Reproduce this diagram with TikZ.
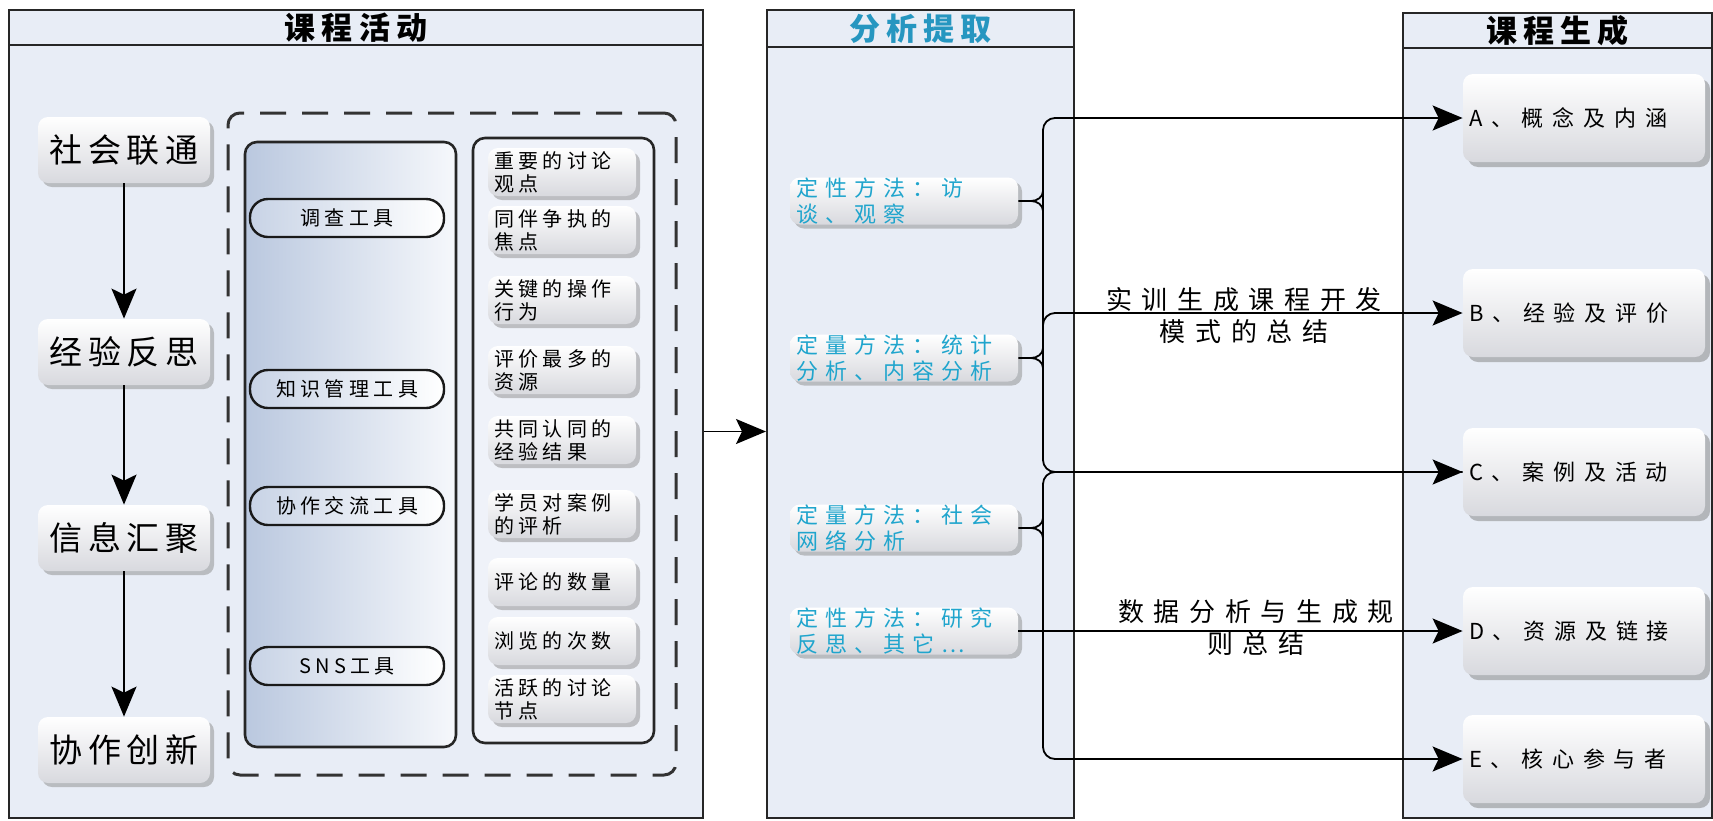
\documentclass[tikz,border=0pt]{standalone}
\usepackage{fontspec}
\setmainfont{Noto Sans CJK SC}
\usetikzlibrary{positioning,arrows.meta,shadows}

\definecolor{panelbg}{RGB}{232,237,246}
\definecolor{toolbg}{RGB}{186,200,223}
\definecolor{itembot}{RGB}{216,217,222}
\definecolor{methodtxt}{RGB}{32,165,205}
\definecolor{titlecyan}{RGB}{38,150,192}

\tikzset{
  conn/.style={draw=black,line width=0.9pt},
  arr/.style={conn,-{Stealth[length=15pt,width=12.5pt,inset=3pt]}},
  panel/.style={draw=black!85,line width=1pt,fill=panelbg,inner sep=0pt},
  head/.style={panel,line width=1.1pt,font=\fontsize{15.5}{18}\selectfont\bfseries\addfontfeatures{LetterSpace=20}},
  boxshade/.style={top color=white,bottom color=itembot,
    drop shadow={shadow xshift=2pt,shadow yshift=-2pt,fill=black!45}},
  stage/.style={boxshade,rounded corners=5pt,minimum width=86pt,minimum height=33pt,inner sep=0pt,
    font=\fontsize{16.5}{19}\selectfont\addfontfeatures{LetterSpace=17}},
  grpbox/.style={draw=black!80,line width=1.5pt,dash pattern=on 13pt off 8pt,rounded corners=6pt},
  column/.style={draw=black!85,line width=1.3pt,rounded corners=6pt},
  tool/.style={draw=black!90,line width=1.2pt,rounded corners=9pt,left color=toolbg!80,right color=white,
    minimum width=97pt,minimum height=19pt,inner sep=0pt,
    font=\fontsize{10}{11.5}\selectfont\addfontfeatures{LetterSpace=22}},
  item/.style={boxshade,rounded corners=5pt,minimum width=74pt,minimum height=24pt,
    text width=68pt,inner xsep=3pt,inner ysep=0pt,align=left,
    font=\fontsize{10}{11.5}\selectfont\addfontfeatures{LetterSpace=22}},
  method/.style={boxshade,rounded corners=5pt,minimum width=114pt,minimum height=23.5pt,
    text width=108pt,inner xsep=3pt,inner ysep=0pt,align=left,text=methodtxt,
    font=\fontsize{11}{13}\selectfont\addfontfeatures{LetterSpace=32}},
  result/.style={top color=white,bottom color=itembot,rounded corners=5pt,
    drop shadow={shadow xshift=2.5pt,shadow yshift=-2.5pt,fill=black!50},
    minimum width=121pt,minimum height=44pt,text width=115pt,inner xsep=3pt,align=left,
    font=\fontsize{11}{13}\selectfont\addfontfeatures{LetterSpace=40}},
  lbl/.style={align=center,inner sep=0pt,
    font=\fontsize{13}{16}\selectfont\addfontfeatures{LetterSpace=37}}
}

\begin{document}
\begin{tikzpicture}[x=0.5pt,y=-0.5pt]
\useasboundingbox (0,0) rectangle (1713,820);

\node[panel,minimum width=347pt,minimum height=386.5pt] (pact) at (356,431.5) {};
\node[panel,minimum width=153.5pt,minimum height=385.5pt] (pana) at (920.5,432.5) {};
\node[panel,minimum width=154.5pt,minimum height=385pt] (pgen) at (1557.5,433) {};
\node[head,minimum width=347pt,minimum height=17.5pt] (hact) at (356,27.5) {课程活动};
\node[head,minimum width=153.5pt,minimum height=18.5pt,text=titlecyan] (hana) at (920.5,28.5) {分析提取};
\node[head,minimum width=154.5pt,minimum height=17.5pt] (hgen) at (1557.5,30.5) {课程生成};

\foreach \y/\txt [count=\i] in {150/社会联通,352/经验反思,538/信息汇聚,750/协作创新} {
\node[stage] (st\i) at (124,\y) {\txt};
}
\foreach \i/\j in {1/2,2/3,3/4} {
\draw[arr] (st\i) -- (st\j);
}

\node[grpbox,minimum width=224pt,minimum height=331pt] (grp) at (452,444) {};
\node[column,left color=toolbg,right color=panelbg!40!white,minimum width=105.5pt,minimum height=302.5pt] (tcol) at (350.5,444.5) {};
\node[column,fill=panelbg!70!white,minimum width=90.5pt,minimum height=302.5pt] (icol) at (563.5,440.5) {};

\foreach \y/\txt [count=\i] in {218/调查工具,389/知识管理工具,506/协作交流工具,666/SNS工具} {
\node[tool] (tl\i) at (347,\y) {\txt};
}
\foreach \y/\txt [count=\i] in {172/{重要的讨论\\观点},230/{同伴争执的\\焦点},300/{关键的操作\\行为},
  370/{评价最多的\\资源},440/{共同认同的\\经验结果},514/{学员对案例\\的评析},582/{评论的数量},
  641/{浏览的次数},699/{活跃的讨论\\节点}} {
\node[item] (it\i) at (562,\y) {\txt};
}

\draw[arr] (pact.east) -- (pact.east -| pana.west);

\foreach \y/\txt [count=\i] in {201/{定性方法：访\\谈、观察},358/{定量方法：统计\\分析、内容分析},
  528/{定量方法：社会\\网络分析},631/{定性方法：研究\\反思、其它…}} {
\node[method] (md\i) at (904,\y) {\txt};
}

\foreach \y/\txt [count=\i] in {118/A、概念及内涵,313/B、经验及评价,472/C、案例及活动,631/D、资源及链接,759/E、核心参与者} {
\node[result] (rs\i) at (1584,\y) {\txt};
}

\node[lbl] (lb1) at (1244,316) {实训生成课程开发\\模式的总结};
\node[lbl] (lb2) at (1256,628) {数据分析与生成规\\则总结};

\coordinate (bx) at (1043,0);
\coordinate (tp) at (1031,0);
\draw[arr,rounded corners=6pt] (md1.east -| bx) |- (rs1.west);
\draw[arr,rounded corners=6pt] (md1.east -| bx) |- (rs3.west);
\draw[arr,rounded corners=6pt] (md2.east -| bx) |- (rs2.west);
\draw[conn,rounded corners=6pt] (md3.east -| bx) |- (rs3.west);
\draw[arr,rounded corners=6pt] (md3.east -| bx) |- (rs5.west);
\draw[arr] (md4.east) -- (rs4.west);
\foreach \i in {1,2,3} {
\draw[conn] (md\i.east) -- (md\i.east -| tp) to[out=0,in=-90] ++(12,-10);
\draw[conn] (md\i.east -| tp) to[out=0,in=90] ++(12,10);
}
\end{tikzpicture}
\end{document}
